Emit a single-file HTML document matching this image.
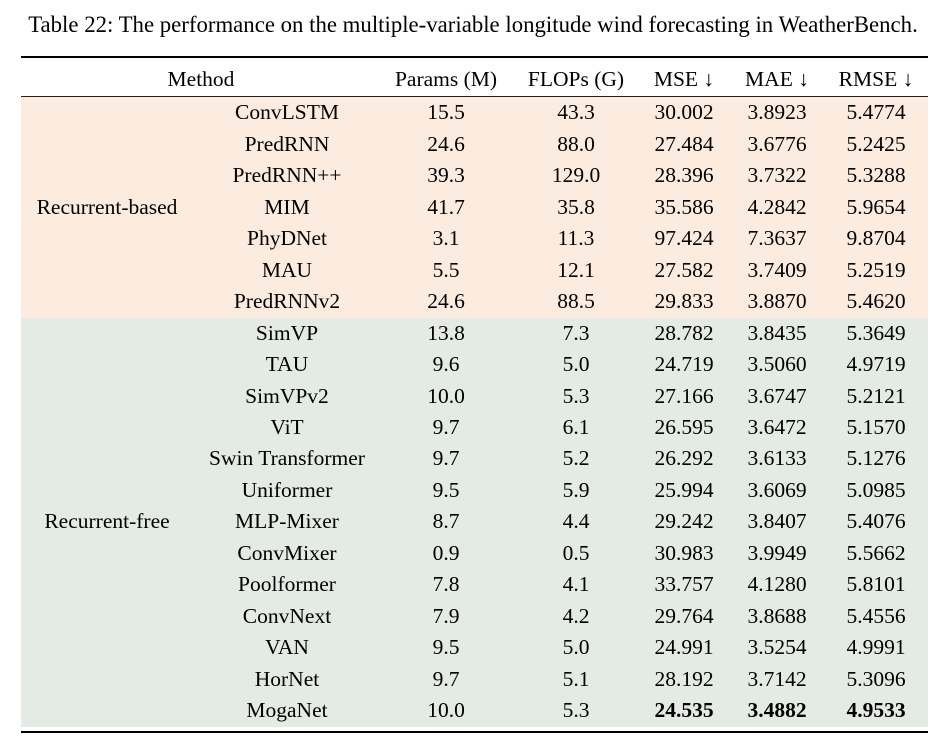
<!DOCTYPE html>
<html><head><meta charset="utf-8">
<style>
html,body{margin:0;padding:0;background:#fff;}
body{width:946px;height:747px;position:relative;overflow:hidden;font-family:"Liberation Serif","DejaVu Serif",serif;font-size:21.5px;color:#000;}
.cap{position:absolute;left:-50px;width:1046px;top:10px;text-align:center;line-height:30px;white-space:nowrap;font-size:22.8px;}
.rule{position:absolute;left:21px;width:907px;background:#000;}
.bg{position:absolute;left:21px;width:907px;}
.r{position:absolute;left:0;width:946px;height:31.47px;}
.r div{position:absolute;top:0;width:300px;text-align:center;white-space:nowrap;height:31.47px;line-height:31.47px;}
.r div:nth-child(1){left:137px;}
.r div:nth-child(2){left:296px;}
.r div:nth-child(3){left:426px;}
.r div:nth-child(4){left:534px;}
.r div:nth-child(5){left:627px;}
.r div:nth-child(6){left:726px;}
.g{position:absolute;left:-43px;width:300px;text-align:center;white-space:nowrap;height:31.47px;line-height:31.47px;}
.h{position:absolute;width:300px;text-align:center;white-space:nowrap;height:40px;line-height:40px;top:59px;}
b{font-weight:bold;}
</style></head><body>
<div class="cap">Table 22: The performance on the multiple-variable longitude wind forecasting in WeatherBench.</div>
<div class="rule" style="top:56px;height:2px;"></div>
<div class="bg" style="top:97.3px;height:220.3px;background:#fcece0;"></div>
<div class="bg" style="top:317.6px;height:409.4px;background:#e4eae4;"></div>
<div class="rule" style="top:96.3px;height:1px;background:#222;"></div>
<div class="rule" style="top:731px;height:2.2px;"></div>

<div class="h" style="left:51px;">Method</div>
<div class="h" style="left:296px;">Params (M)</div>
<div class="h" style="left:426px;">FLOPs (G)</div>
<div class="h" style="left:534px;">MSE ↓</div>
<div class="h" style="left:627px;">MAE ↓</div>
<div class="h" style="left:726px;">RMSE ↓</div>

<div class="r" style="top:97.30px;"><div>ConvLSTM</div><div>15.5</div><div>43.3</div><div>30.002</div><div>3.8923</div><div>5.4774</div></div>
<div class="r" style="top:128.77px;"><div>PredRNN</div><div>24.6</div><div>88.0</div><div>27.484</div><div>3.6776</div><div>5.2425</div></div>
<div class="r" style="top:160.24px;"><div>PredRNN++</div><div>39.3</div><div>129.0</div><div>28.396</div><div>3.7322</div><div>5.3288</div></div>
<div class="r" style="top:191.71px;"><div>MIM</div><div>41.7</div><div>35.8</div><div>35.586</div><div>4.2842</div><div>5.9654</div></div>
<div class="r" style="top:223.18px;"><div>PhyDNet</div><div>3.1</div><div>11.3</div><div>97.424</div><div>7.3637</div><div>9.8704</div></div>
<div class="r" style="top:254.65px;"><div>MAU</div><div>5.5</div><div>12.1</div><div>27.582</div><div>3.7409</div><div>5.2519</div></div>
<div class="r" style="top:286.12px;"><div>PredRNNv2</div><div>24.6</div><div>88.5</div><div>29.833</div><div>3.8870</div><div>5.4620</div></div>
<div class="r" style="top:317.59px;"><div>SimVP</div><div>13.8</div><div>7.3</div><div>28.782</div><div>3.8435</div><div>5.3649</div></div>
<div class="r" style="top:349.06px;"><div>TAU</div><div>9.6</div><div>5.0</div><div>24.719</div><div>3.5060</div><div>4.9719</div></div>
<div class="r" style="top:380.53px;"><div>SimVPv2</div><div>10.0</div><div>5.3</div><div>27.166</div><div>3.6747</div><div>5.2121</div></div>
<div class="r" style="top:412.00px;"><div>ViT</div><div>9.7</div><div>6.1</div><div>26.595</div><div>3.6472</div><div>5.1570</div></div>
<div class="r" style="top:443.47px;"><div>Swin Transformer</div><div>9.7</div><div>5.2</div><div>26.292</div><div>3.6133</div><div>5.1276</div></div>
<div class="r" style="top:474.94px;"><div>Uniformer</div><div>9.5</div><div>5.9</div><div>25.994</div><div>3.6069</div><div>5.0985</div></div>
<div class="r" style="top:506.41px;"><div>MLP-Mixer</div><div>8.7</div><div>4.4</div><div>29.242</div><div>3.8407</div><div>5.4076</div></div>
<div class="r" style="top:537.88px;"><div>ConvMixer</div><div>0.9</div><div>0.5</div><div>30.983</div><div>3.9949</div><div>5.5662</div></div>
<div class="r" style="top:569.35px;"><div>Poolformer</div><div>7.8</div><div>4.1</div><div>33.757</div><div>4.1280</div><div>5.8101</div></div>
<div class="r" style="top:600.82px;"><div>ConvNext</div><div>7.9</div><div>4.2</div><div>29.764</div><div>3.8688</div><div>5.4556</div></div>
<div class="r" style="top:632.29px;"><div>VAN</div><div>9.5</div><div>5.0</div><div>24.991</div><div>3.5254</div><div>4.9991</div></div>
<div class="r" style="top:663.76px;"><div>HorNet</div><div>9.7</div><div>5.1</div><div>28.192</div><div>3.7142</div><div>5.3096</div></div>
<div class="r" style="top:695.23px;"><div>MogaNet</div><div>10.0</div><div>5.3</div><div><b>24.535</b></div><div><b>3.4882</b></div><div><b>4.9533</b></div></div>

<div class="g" style="top:191.71px;">Recurrent-based</div>
<div class="g" style="top:506.41px;">Recurrent-free</div>
</body></html>
